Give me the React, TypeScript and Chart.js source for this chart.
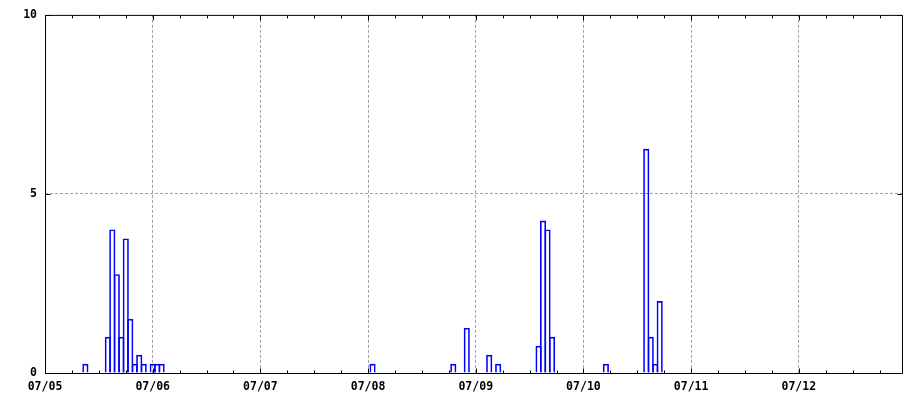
import React, { useEffect, useRef } from "react";
import { Chart, registerables } from "chart.js";

Chart.register(...registerables);

// Day labels for the x axis (one per 24 hours, starting 07/05 00:00)
const DAY_LABELS = ["07/05", "07/06", "07/07", "07/08", "07/09", "07/10", "07/11", "07/12"];
// Hour offsets (from 07/05 00:00) of each non-zero bar
const HOURS = [9, 14, 15, 16, 17, 18, 19, 20, 21, 22, 24, 25, 26, 73, 91, 94, 99, 101, 110, 111, 112, 113, 125, 134, 135, 136, 137];
// Values of each bar
const VALUES = [0.25, 1.0, 4.0, 2.75, 1.0, 3.75, 1.5, 0.25, 0.5, 0.25, 0.25, 0.25, 0.25, 0.25, 0.25, 1.25, 0.5, 0.25, 0.75, 4.25, 4.0, 1.0, 0.25, 6.25, 1.0, 0.25, 2.0];
// Y tick values
const Y_TICKS = [0, 5, 10];

const X_MIN = 0;
const X_MAX = 191;
const MINOR_STEP = 6;
const MAJOR_STEP = 24;

const GRID = "#a0a0a0";
const FONT = { family: "'DejaVu Sans Mono', 'Liberation Mono', monospace", size: 11.5, weight: "bold" as const };

const framePlugin = {
  id: "gnuFrame",
  afterDatasetsDraw(chart: any) {
    const { ctx, chartArea, scales } = chart;
    const { left, right, top, bottom } = chartArea;
    const x = scales.x;
    const y = scales.y;
    ctx.save();
    ctx.strokeStyle = "#000";
    ctx.lineWidth = 1;
    ctx.setLineDash([]);
    ctx.beginPath();
    for (let h = X_MIN; h <= X_MAX; h += MINOR_STEP) {
      const px = Math.round(x.getPixelForValue(h)) + 0.5;
      const len = h % MAJOR_STEP === 0 ? 5 : 3;
      ctx.moveTo(px, bottom + 0.5);
      ctx.lineTo(px, bottom + 0.5 - len);
      ctx.moveTo(px, top + 0.5);
      ctx.lineTo(px, top + 0.5 + len);
    }
    for (const v of Y_TICKS) {
      const py = Math.round(y.getPixelForValue(v)) + 0.5;
      ctx.moveTo(left + 0.5, py);
      ctx.lineTo(left + 0.5 + 5, py);
      ctx.moveTo(right + 0.5, py);
      ctx.lineTo(right + 0.5 - 5, py);
    }
    ctx.rect(left + 0.5, top + 0.5, right - left, bottom - top);
    ctx.stroke();
    ctx.restore();
  },
};

export default function App() {
  const ref = useRef<HTMLCanvasElement | null>(null);

  useEffect(() => {
    if (!ref.current) return;
    const chart = new Chart(ref.current, {
      type: "bar",
      data: {
        datasets: [
          {
            data: HOURS.map((h, i) => ({ x: h, y: VALUES[i] })),
            backgroundColor: "rgba(0,0,0,0)",
            borderColor: "#0000ff",
            borderWidth: 1,
            borderSkipped: "bottom",
            barThickness: 5.5,
          } as any,
        ],
      },
      options: {
        responsive: false,
        animation: false,
        devicePixelRatio: 1,
        layout: { padding: { top: 13, right: 18, left: 0, bottom: 0 } },
        plugins: { legend: { display: false }, tooltip: { enabled: false } },
        scales: {
          x: {
            type: "linear",
            min: X_MIN,
            max: X_MAX,
            offset: false,
            afterFit: (s: any) => {
              s.height = 27;
            },
            ticks: {
              stepSize: MINOR_STEP,
              autoSkip: false,
              maxRotation: 0,
              includeBounds: false,
              padding: 7,
              color: "#000",
              font: FONT,
              callback: (v: any) => {
                const n = Number(v);
                return n % MAJOR_STEP === 0 ? DAY_LABELS[n / MAJOR_STEP] ?? "" : "";
              },
            },
            grid: {
              offset: false,
              drawTicks: false,
              lineWidth: 1,
              color: (c: any) =>
                c.tick && c.tick.value % MAJOR_STEP === 0 && c.tick.value > X_MIN ? GRID : "rgba(0,0,0,0)",
            },
            border: { display: false, dash: [3, 2] },
          },
          y: {
            min: 0,
            max: 10,
            afterFit: (s: any) => {
              s.width = 45;
            },
            ticks: {
              stepSize: 5,
              padding: 8,
              color: "#000",
              font: FONT,
            },
            grid: {
              drawTicks: false,
              lineWidth: 1,
              color: (c: any) => (c.tick && c.tick.value === 5 ? GRID : "rgba(0,0,0,0)"),
            },
            border: { display: false, dash: [3, 2] },
          },
        },
      },
      plugins: [framePlugin],
    });
    return () => chart.destroy();
  }, []);

  return (
    <div style={{ position: "fixed", left: 0, top: 0, width: 920, height: 400, background: "#fff" }}>
      <canvas ref={ref} width={920} height={400} style={{ width: 920, height: 400, display: "block" }} />
    </div>
  );
}
